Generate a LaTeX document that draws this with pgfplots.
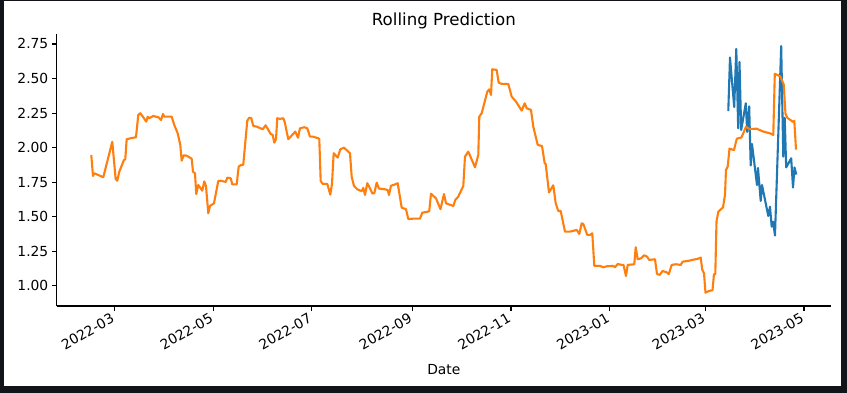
\documentclass[border=0pt]{standalone}
\usepackage{pgfplots}
\pgfplotsset{compat=1.18}
\usepackage{fontspec}
\setmainfont{DejaVu Sans}
\definecolor{mplblue}{HTML}{1F77B4}
\definecolor{mplorange}{HTML}{FF7F0E}
\definecolor{frame}{HTML}{111418}
\begin{document}
\begin{tikzpicture}
\useasboundingbox (0bp,0bp) rectangle (847bp,393bp);
\fill[frame] (0bp,0bp) rectangle (847bp,393bp);
\fill[white] (4bp,7bp) rectangle (841bp,392bp);
\begin{axis}[
  at={(56.7bp,87bp)}, anchor=south west,
  scale only axis, width=774.3bp, height=272bp,
  xmin=-35.7, xmax=442.7, ymin=0.855, ymax=2.822,
  axis x line*=bottom, axis y line*=left,
  axis line style={-, line width=1.1bp},
  tick align=outside, major tick length=4.9bp,
  every tick/.style={black, line width=1.1bp},
  xtick={0,61,122,184,245,306,365,426},
  xticklabels={2022-03,2022-05,2022-07,2022-09,2022-11,2023-01,2023-03,2023-05},
  xticklabel style={xshift=-4bp, rotate=30, anchor=north east, font=\fontsize{13.9}{16}\selectfont, inner sep=1bp},
  ytick={1,1.25,1.5,1.75,2,2.25,2.5,2.75},
  yticklabels={1.00,1.25,1.50,1.75,2.00,2.25,2.50,2.75},
  yticklabel style={font=\fontsize{13.9}{16}\selectfont},
  title={Rolling Prediction},
  title style={font=\fontsize{16.7}{20}\selectfont, yshift=-4bp},
  xlabel={Date},
  xlabel style={font=\fontsize{13.9}{16}\selectfont, yshift=-9bp},
  clip=false,
]
\addplot[mplblue, line width=2.1bp, line join=round] coordinates {
(379.24,2.265) (380.29,2.652) (382.89,2.294) (384.18,2.714) (385.36,2.140)
(386.16,2.620) (387.21,2.128) (390.05,2.321) (390.92,2.114) (392.15,2.299)
(393.08,1.871) (393.88,2.027) (396.97,1.730) (397.59,1.853) (399.26,1.615)
(400.06,1.730) (403.95,1.506) (405.00,1.573) (406.05,1.429) (406.86,1.465)
(408.09,1.365) (411.92,2.735) (413.22,1.935) (414.09,2.216) (415.01,1.857)
(418.10,1.923) (419.22,1.712) (420.14,1.857) (421.25,1.806)
};
\addplot[mplorange, line width=2.1bp, line join=round] coordinates {
(-14.33,1.947) (-13.28,1.795) (-12.48,1.815) (-6.92,1.786) (-1.36,2.043)
(0.74,1.772) (1.73,1.761) (2.97,1.826) (5.87,1.911) (6.67,1.916)
(7.54,2.061) (10.63,2.070) (13.28,2.075) (14.70,2.236) (15.94,2.249)
(17.79,2.220) (19.65,2.188) (20.51,2.224) (21.50,2.213) (23.97,2.229)
(27.06,2.220) (28.73,2.200) (29.97,2.244) (30.77,2.224) (35.34,2.224)
(36.95,2.164) (39.05,2.104) (40.65,2.020) (41.52,1.906) (42.76,1.945)
(44.61,1.942) (47.70,1.920) (48.50,1.826) (49.74,1.815) (50.54,1.665)
(51.78,1.730) (54.25,1.689) (55.48,1.756) (56.53,1.723) (57.95,1.526)
(59.00,1.578) (61.48,1.598) (64.13,1.759) (65.62,1.761) (68.71,1.752)
(69.69,1.783) (71.80,1.779) (72.78,1.735) (75.50,1.735) (76.74,1.863)
(77.97,1.873) (79.58,1.877) (82.05,2.195) (83.29,2.217) (84.52,2.213)
(85.76,2.157) (87.86,2.152) (91.57,2.133) (93.42,2.162) (96.51,2.099)
(97.74,2.092) (98.73,2.036) (99.78,2.061) (100.59,2.213) (102.26,2.208)
(104.29,2.213) (105.16,2.186) (107.38,2.061) (111.71,2.116) (113.38,2.072)
(114.61,2.140) (117.27,2.148) (119.12,2.140) (120.79,2.080) (122.46,2.080)
(125.92,2.068) (126.54,2.061) (127.40,1.759) (128.64,1.738) (131.48,1.738)
(133.33,1.660) (134.38,1.738) (135.43,1.960) (137.91,1.928) (139.51,1.988)
(141.80,2.000) (145.50,1.960) (146.56,1.790) (147.98,1.723) (150.01,1.699)
(152.73,1.685) (153.72,1.709) (154.77,1.658) (156.19,1.743) (157.86,1.706)
(159.28,1.670) (160.52,1.670) (162.00,1.747) (163.42,1.704) (167.13,1.699)
(168.80,1.694) (169.60,1.658) (170.84,1.725) (172.88,1.732) (174.98,1.743)
(177.45,1.566) (180.11,1.555) (181.53,1.484) (185.23,1.487) (188.75,1.487)
(190.18,1.530) (192.89,1.535) (194.50,1.542) (195.55,1.667) (196.97,1.651)
(198.64,1.634) (201.42,1.555) (203.58,1.665) (204.82,1.598) (209.33,1.578)
(210.57,1.622) (212.42,1.646) (215.51,1.723) (216.56,1.935) (218.60,1.971)
(222.74,1.858) (224.78,1.947) (225.39,2.224) (226.88,2.249) (230.34,2.405)
(231.57,2.422) (232.62,2.381) (233.43,2.567) (236.14,2.562) (237.38,2.470)
(239.23,2.461) (243.31,2.461) (245.41,2.369) (248.07,2.333) (251.59,2.268)
(253.44,2.321) (254.68,2.285) (257.34,2.273) (258.76,2.152) (261.48,2.020)
(264.13,2.012) (265.80,1.887) (266.42,1.882) (268.46,1.676) (271.12,1.728)
(272.60,1.598) (274.21,1.542) (275.69,1.542) (278.34,1.393) (281.43,1.393)
(285.57,1.405) (287.18,1.376) (288.66,1.453) (289.65,1.448) (292.12,1.369)
(293.79,1.369) (295.21,1.381) (296.45,1.145) (299.97,1.145) (302.01,1.135)
(304.11,1.142) (308.19,1.145) (309.24,1.135) (310.91,1.159) (313.38,1.152)
(314.49,1.152) (316.03,1.072) (317.08,1.152) (321.16,1.157) (322.03,1.280)
(323.26,1.193) (325.30,1.200) (327.34,1.222) (329.01,1.212) (330.43,1.188)
(333.95,1.193) (335.19,1.087) (336.85,1.080) (338.58,1.108) (341.18,1.099)
(342.42,1.085) (344.27,1.152) (346.93,1.157) (349.83,1.152) (351.07,1.176)
(354.53,1.181) (357.62,1.190) (360.09,1.195) (362.19,1.205) (363.18,1.116)
(364.23,1.092) (365.15,0.952) (367.50,0.964) (369.48,0.969) (370.40,1.085)
(371.21,1.085) (371.95,1.465) (373.06,1.537) (375.97,1.568) (377.20,1.658)
(377.82,1.839) (378.87,1.863) (379.98,1.993) (382.76,1.983) (384.49,2.065)
(387.40,2.074) (390.18,2.152) (392.34,2.135) (396.79,2.137) (400.68,2.117)
(405.19,2.103) (407.04,2.092) (407.97,2.534) (411.37,2.516) (413.47,2.457)
(414.58,2.244) (415.82,2.215) (417.98,2.197) (419.22,2.186) (420.02,2.195)
(421.07,1.986)
};
\end{axis}
\end{tikzpicture}
\end{document}
